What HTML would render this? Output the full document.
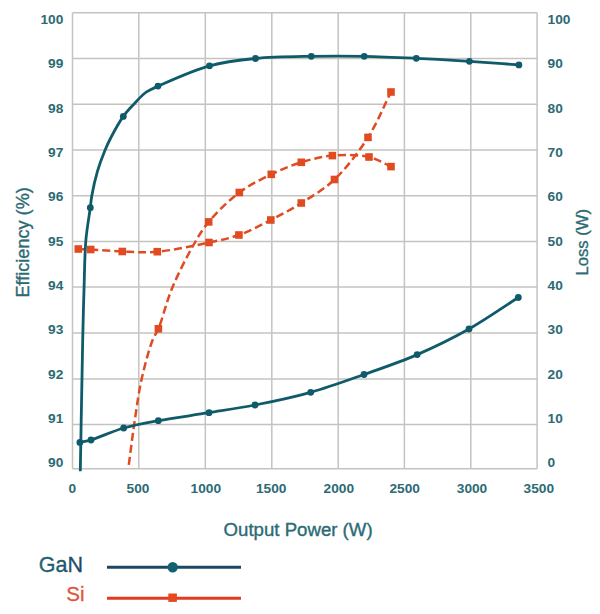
<!DOCTYPE html>
<html><head><meta charset="utf-8"><style>
html,body{margin:0;padding:0;background:#fff;}
body{width:600px;height:614px;overflow:hidden;}
svg{display:block;font-family:"Liberation Sans", sans-serif;}
</style></head><body>
<svg width="600" height="614" viewBox="0 0 600 614">
<g stroke="#c4c3bf" stroke-width="1.5" fill="none"><line x1="72.5" y1="12.8" x2="72.5" y2="468.7"/><line x1="138.8" y1="12.8" x2="138.8" y2="468.7"/><line x1="205.3" y1="12.8" x2="205.3" y2="468.7"/><line x1="271.8" y1="12.8" x2="271.8" y2="468.7"/><line x1="338.2" y1="12.8" x2="338.2" y2="468.7"/><line x1="404.4" y1="12.8" x2="404.4" y2="468.7"/><line x1="470.8" y1="12.8" x2="470.8" y2="468.7"/><line x1="537.1" y1="12.8" x2="537.1" y2="468.7"/><line x1="72.5" y1="12.8" x2="537.1" y2="12.8"/><line x1="72.5" y1="58.6" x2="537.1" y2="58.6"/><line x1="72.5" y1="104.3" x2="537.1" y2="104.3"/><line x1="72.5" y1="150.0" x2="537.1" y2="150.0"/><line x1="72.5" y1="195.8" x2="537.1" y2="195.8"/><line x1="72.5" y1="241.5" x2="537.1" y2="241.5"/><line x1="72.5" y1="287.0" x2="537.1" y2="287.0"/><line x1="72.5" y1="333.1" x2="537.1" y2="333.1"/><line x1="72.5" y1="379.1" x2="537.1" y2="379.1"/><line x1="72.5" y1="424.6" x2="537.1" y2="424.6"/><line x1="72.5" y1="468.7" x2="537.1" y2="468.7"/></g><path d="M78.30,249.00 C82.43,249.17 85.62,249.24 90.70,249.50 C98.82,249.92 111.49,251.13 122.30,251.50 C133.66,251.89 144.55,252.79 157.30,251.70 C172.91,250.37 194.16,245.68 209.00,242.50 C220.37,240.07 228.94,238.55 238.90,235.00 C249.55,231.20 260.38,225.35 270.80,220.00 C281.17,214.68 291.09,209.43 301.30,203.00 C312.32,196.06 324.06,189.37 334.50,179.50 C346.50,168.15 358.50,152.21 368.00,137.40 C377.24,123.00 383.33,107.13 391.00,92.00" fill="none" stroke="#e04b22" stroke-width="2.5" stroke-dasharray="8 4" stroke-linejoin="round"/><path d="M128.80,464.80 C130.80,449.87 132.60,434.60 134.80,420.00 C136.92,405.96 138.69,392.25 141.70,378.80 C144.65,365.59 149.08,348.92 152.60,340.00 C154.57,335.01 156.28,333.80 158.40,328.80 C162.30,319.63 166.41,302.00 172.00,288.50 C177.97,274.08 186.59,257.05 193.50,245.00 C198.71,235.90 202.22,229.69 208.70,221.90 C216.73,212.24 228.45,200.60 239.30,192.50 C249.40,184.96 260.63,179.44 271.30,174.30 C281.30,169.49 291.08,165.42 301.30,162.30 C311.45,159.20 321.55,156.55 332.40,155.60 C344.04,154.58 358.54,154.61 369.00,157.00 C377.47,158.94 383.67,163.40 391.00,166.60" fill="none" stroke="#e04b22" stroke-width="2.5" stroke-dasharray="8 4" stroke-linejoin="round"/><rect x="74.5" y="245.2" width="7.6" height="7.6" fill="#e04b22"/><rect x="86.9" y="245.7" width="7.6" height="7.6" fill="#e04b22"/><rect x="118.5" y="247.7" width="7.6" height="7.6" fill="#e04b22"/><rect x="153.5" y="247.9" width="7.6" height="7.6" fill="#e04b22"/><rect x="205.2" y="238.7" width="7.6" height="7.6" fill="#e04b22"/><rect x="235.1" y="231.2" width="7.6" height="7.6" fill="#e04b22"/><rect x="267.0" y="216.2" width="7.6" height="7.6" fill="#e04b22"/><rect x="297.5" y="199.2" width="7.6" height="7.6" fill="#e04b22"/><rect x="330.7" y="175.7" width="7.6" height="7.6" fill="#e04b22"/><rect x="364.2" y="133.6" width="7.6" height="7.6" fill="#e04b22"/><rect x="387.2" y="88.2" width="7.6" height="7.6" fill="#e04b22"/><rect x="154.6" y="325.0" width="7.6" height="7.6" fill="#e04b22"/><rect x="204.9" y="218.1" width="7.6" height="7.6" fill="#e04b22"/><rect x="235.5" y="188.7" width="7.6" height="7.6" fill="#e04b22"/><rect x="267.5" y="170.5" width="7.6" height="7.6" fill="#e04b22"/><rect x="297.5" y="158.5" width="7.6" height="7.6" fill="#e04b22"/><rect x="328.6" y="151.8" width="7.6" height="7.6" fill="#e04b22"/><rect x="365.2" y="153.2" width="7.6" height="7.6" fill="#e04b22"/><rect x="387.2" y="162.8" width="7.6" height="7.6" fill="#e04b22"/><path d="M80.30,471.30 C81.10,427.53 81.96,373.40 82.70,340.00 C83.16,319.39 83.47,306.67 84.00,290.00 C84.53,273.33 84.61,254.83 85.90,240.00 C86.94,228.03 89.23,215.84 90.30,207.70 C90.95,202.77 90.97,200.45 91.80,195.80 C93.00,189.05 95.21,179.01 97.50,171.20 C99.65,163.86 102.47,156.34 105.00,150.20 C107.05,145.24 108.66,141.82 111.20,137.00 C114.45,130.83 119.14,122.22 123.30,116.40 C126.71,111.63 130.17,108.11 133.80,104.20 C137.40,100.32 141.70,95.55 145.00,93.00 C147.19,91.31 148.90,90.62 151.00,89.50 C153.22,88.31 154.55,87.62 158.00,86.10 C167.21,82.06 192.57,70.42 209.50,65.80 C225.03,61.56 239.38,60.09 255.50,58.50 C273.15,56.76 292.94,56.66 311.30,56.30 C329.17,55.95 346.64,55.96 364.20,56.30 C381.64,56.63 398.85,57.47 416.30,58.30 C433.92,59.14 452.02,60.18 469.40,61.30 C486.19,62.39 502.40,63.70 518.90,64.90" fill="none" stroke="#0f5b69" stroke-width="2.8" stroke-linejoin="round"/><path d="M79.90,442.40 C83.60,441.60 86.38,441.34 91.00,440.00 C99.09,437.65 112.53,431.21 123.70,428.00 C134.96,424.77 145.64,423.03 158.30,420.70 C173.56,417.89 192.52,415.38 209.00,412.70 C224.71,410.15 238.98,408.16 255.00,405.00 C272.73,401.50 292.46,397.41 310.70,392.30 C328.79,387.23 346.30,380.76 364.00,374.50 C381.80,368.20 399.77,362.14 417.20,354.60 C434.78,346.99 452.20,338.48 469.00,329.00 C485.91,319.46 501.87,308.00 518.30,297.50" fill="none" stroke="#0f5b69" stroke-width="2.8" stroke-linejoin="round"/><circle cx="90.3" cy="207.7" r="3.4" fill="#0f5b69"/><circle cx="123.3" cy="116.4" r="3.4" fill="#0f5b69"/><circle cx="158.0" cy="86.1" r="3.4" fill="#0f5b69"/><circle cx="209.5" cy="65.8" r="3.4" fill="#0f5b69"/><circle cx="255.5" cy="58.5" r="3.4" fill="#0f5b69"/><circle cx="311.3" cy="56.3" r="3.4" fill="#0f5b69"/><circle cx="364.2" cy="56.3" r="3.4" fill="#0f5b69"/><circle cx="416.3" cy="58.3" r="3.4" fill="#0f5b69"/><circle cx="469.4" cy="61.3" r="3.4" fill="#0f5b69"/><circle cx="518.9" cy="64.9" r="3.4" fill="#0f5b69"/><circle cx="79.9" cy="442.4" r="3.4" fill="#0f5b69"/><circle cx="91.0" cy="440.0" r="3.4" fill="#0f5b69"/><circle cx="123.7" cy="428.0" r="3.4" fill="#0f5b69"/><circle cx="158.3" cy="420.7" r="3.4" fill="#0f5b69"/><circle cx="209.0" cy="412.7" r="3.4" fill="#0f5b69"/><circle cx="255.0" cy="405.0" r="3.4" fill="#0f5b69"/><circle cx="310.7" cy="392.3" r="3.4" fill="#0f5b69"/><circle cx="364.0" cy="374.5" r="3.4" fill="#0f5b69"/><circle cx="417.2" cy="354.6" r="3.4" fill="#0f5b69"/><circle cx="469.0" cy="329.0" r="3.4" fill="#0f5b69"/><circle cx="518.3" cy="297.5" r="3.4" fill="#0f5b69"/><g font-family="Liberation Sans, sans-serif" font-weight="bold" font-size="13.7" fill="#2c6a74"><text x="63.3" y="24.0" text-anchor="end">100</text><text x="547.6" y="24.0" text-anchor="start">100</text><text x="63.3" y="68.3" text-anchor="end">99</text><text x="547.6" y="68.3" text-anchor="start">90</text><text x="63.3" y="112.6" text-anchor="end">98</text><text x="547.6" y="112.6" text-anchor="start">80</text><text x="63.3" y="156.9" text-anchor="end">97</text><text x="547.6" y="156.9" text-anchor="start">70</text><text x="63.3" y="201.2" text-anchor="end">96</text><text x="547.6" y="201.2" text-anchor="start">60</text><text x="63.3" y="245.6" text-anchor="end">95</text><text x="547.6" y="245.6" text-anchor="start">50</text><text x="63.3" y="289.9" text-anchor="end">94</text><text x="547.6" y="289.9" text-anchor="start">40</text><text x="63.3" y="334.2" text-anchor="end">93</text><text x="547.6" y="334.2" text-anchor="start">30</text><text x="63.3" y="378.5" text-anchor="end">92</text><text x="547.6" y="378.5" text-anchor="start">20</text><text x="63.3" y="422.8" text-anchor="end">91</text><text x="547.6" y="422.8" text-anchor="start">10</text><text x="63.3" y="467.1" text-anchor="end">90</text><text x="547.6" y="467.1" text-anchor="start">0</text><text x="72.3" y="493" text-anchor="middle">0</text><text x="138.0" y="493" text-anchor="middle">500</text><text x="205.8" y="493" text-anchor="middle">1000</text><text x="271.2" y="493" text-anchor="middle">1500</text><text x="338.8" y="493" text-anchor="middle">2000</text><text x="404.7" y="493" text-anchor="middle">2500</text><text x="472.0" y="493" text-anchor="middle">3000</text><text x="538.8" y="493" text-anchor="middle">3500</text></g><g font-family="Liberation Sans, sans-serif"><text x="223.6" y="536.3" textLength="149" lengthAdjust="spacingAndGlyphs" font-size="17.5" fill="#2c6a74" stroke="#2c6a74" stroke-width="0.35">Output Power (W)</text><text transform="translate(29,297.6) rotate(-90)" textLength="110.4" lengthAdjust="spacingAndGlyphs" font-size="17.5" fill="#2c6a74" stroke="#2c6a74" stroke-width="0.35">Efficiency (%)</text><text transform="translate(588,275.5) rotate(-90)" textLength="66.5" lengthAdjust="spacingAndGlyphs" font-size="17" fill="#2c6a74" stroke="#2c6a74" stroke-width="0.35">Loss (W)</text><defs><linearGradient id="gg" x1="0" x2="1" y1="0" y2="0"><stop offset="0" stop-color="#22666f"/><stop offset="1" stop-color="#1b4866"/></linearGradient></defs><text x="83" y="572" text-anchor="end" font-size="21.5" fill="url(#gg)" stroke="url(#gg)" stroke-width="0.3">GaN</text><text x="84.5" y="601.3" text-anchor="end" font-size="20.5" fill="#e0553a" stroke="#e0553a" stroke-width="0.3">Si</text><line x1="107" y1="567.3" x2="241" y2="567.3" stroke="#1a4862" stroke-width="2.9"/><circle cx="172.7" cy="567.3" r="5.2" fill="#136170"/><line x1="107" y1="598.3" x2="241" y2="598.3" stroke="#e23b22" stroke-width="2.9"/><rect x="168.3" y="593.5" width="8.6" height="8.4" fill="#e8481f"/></g>
</svg>
</body></html>
